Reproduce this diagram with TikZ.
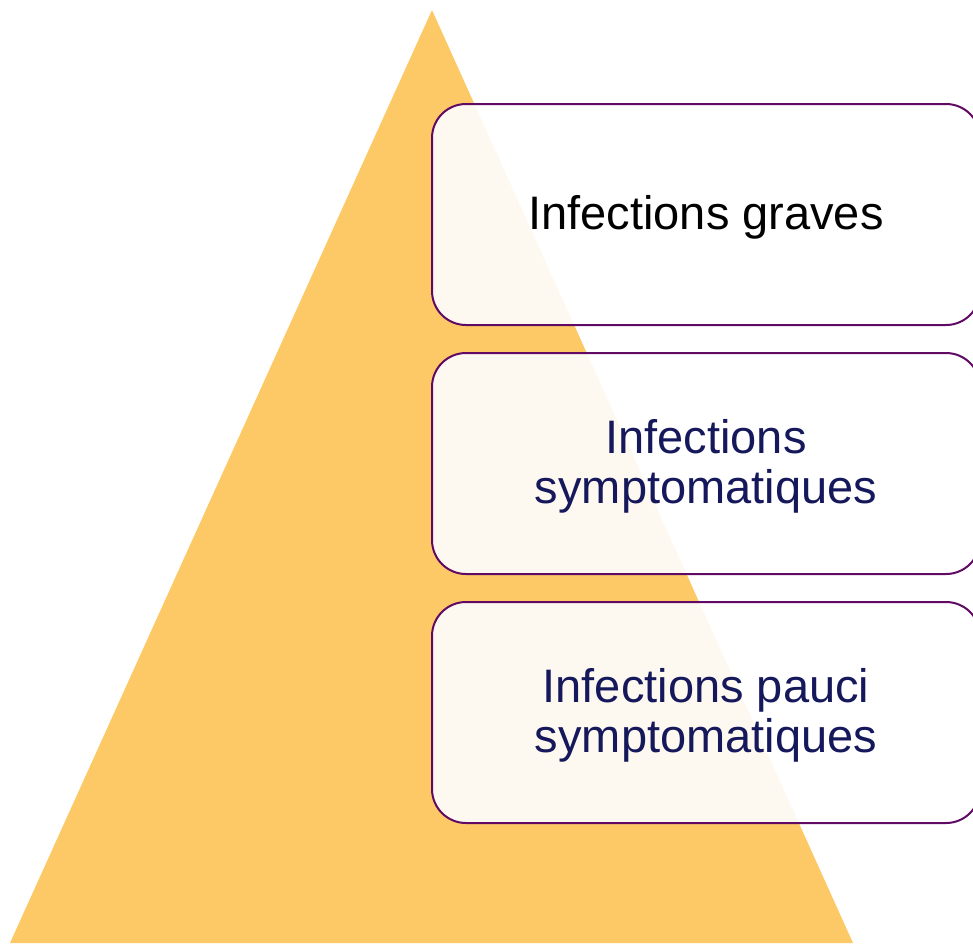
\documentclass[tikz,border=0pt]{standalone}
\usepackage{fontspec}
\setmainfont{Liberation Sans}
\definecolor{pyr}{RGB}{253,201,102}
\definecolor{boxline}{RGB}{96,10,100}
\definecolor{navy}{RGB}{22,24,92}
\begin{document}
\begin{tikzpicture}[x=1pt,y=-1pt,
  level/.style={draw=boxline, line width=2pt, rounded corners=34pt, fill=white, fill opacity=0.9,
    minimum width=548pt, minimum height=221pt, inner sep=0pt},
  lbl/.style={inner sep=0pt, align=center, font=\fontsize{47pt}{50pt}\selectfont}]
\useasboundingbox (0,0) rectangle (973,943);
\clip (0,0) rectangle (973,943);
\fill[pyr] (432,10) -- (853,943) -- (10,943) -- cycle;
\node[level] (b1) at (706,214.5) {};
\node[level] (b2) at (706,463.5) {};
\node[level] (b3) at (706,712.5) {};
\node[lbl, text=black] (t1) at ([yshift=-3pt]b1.center) {Infections graves};
\node[lbl, text=navy] (t2) at ([yshift=-3pt]b2.center) {Infections\\symptomatiques};
\node[lbl, text=navy] (t3) at ([yshift=-3pt]b3.center) {Infections pauci\\symptomatiques};
\end{tikzpicture}
\end{document}
